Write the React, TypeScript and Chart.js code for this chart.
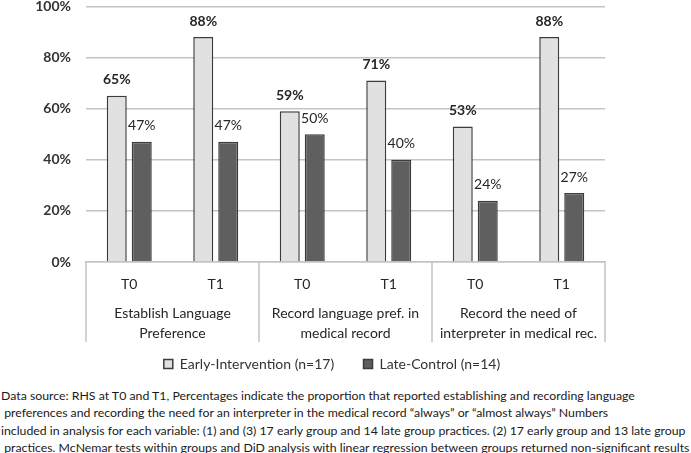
import React, { useEffect, useRef } from "react";
import { Chart, registerables } from "chart.js";

Chart.register(...registerables);

const categories = ["T0", "T1", "T0", "T1", "T0", "T1"];
const groupLabels = [
  ["Establish Language", "Preference"],
  ["Record language pref. in", "medical record"],
  ["Record the need of", "interpreter in medical rec."],
];
const earlyValues = [65, 88, 59, 71, 53, 88];
const lateValues = [47, 47, 50, 40, 24, 27];
const seriesNames = ["Early-Intervention (n=17)", "Late-Control (n=14)"];
const yTicks = [0, 20, 40, 60, 80, 100];
const footnoteLines = [
  "Data source: RHS at T0 and T1, Percentages indicate the proportion that reported establishing and recording language",
  " preferences and recording the need for an interpreter in the medical record \u201Calways\u201D or \u201Calmost always\u201D Numbers",
  "included in analysis for each variable: (1) and (3) 17 early group and 14 late group practices. (2) 17 early group and 13 late group",
  " practices. McNemar tests within groups and DiD analysis with linear regression between groups returned non-significant results",
];

const FONT = "Lato, 'Open Sans', sans-serif";
const GRID = "#c4c4c4";
const SHIFT = 17;

const groupLinesPlugin = {
  id: "groupLines",
  afterDraw(chart: any) {
    const x = chart.scales.x;
    const x2 = chart.scales.x2;
    const ctx = chart.ctx;
    const n = categories.length;
    const edges: number[] = [x.left];
    for (let i = 2; i < n; i += 2) {
      edges.push((x.getPixelForValue(i - 1) + x.getPixelForValue(i)) / 2);
    }
    edges.push(x.right);
    ctx.save();
    ctx.strokeStyle = GRID;
    ctx.lineWidth = 1.5;
    edges.forEach((px) => {
      ctx.beginPath();
      ctx.moveTo(px, chart.chartArea.bottom);
      ctx.lineTo(px, x2.bottom);
      ctx.stroke();
    });
    ctx.restore();
  },
};

const legendShiftPlugin = {
  id: "legendShift",
  afterLayout(chart: any) {
    if (chart.legend) chart.legend.left = 59;
  },
};

const valueLabelPlugin = {
  id: "valueLabels",
  afterDatasetsDraw(chart: any) {
    const ctx = chart.ctx;
    ctx.save();
    ctx.fillStyle = "#262626";
    ctx.textAlign = "center";
    ctx.textBaseline = "middle";
    chart.data.datasets.forEach((ds: any, di: number) => {
      const meta = chart.getDatasetMeta(di);
      ctx.font = `${di === 0 ? "bold " : ""}14px ${FONT}`;
      meta.data.forEach((el: any, i: number) => {
        ctx.fillText(ds.data[i] + "%", el.x, el.y - 16);
      });
    });
    ctx.restore();
  },
};

export default function App() {
  const canvasRef = useRef<HTMLCanvasElement>(null);

  useEffect(() => {
    if (!canvasRef.current) return;
    const chart = new Chart(canvasRef.current, {
      type: "bar",
      data: {
        labels: categories,
        datasets: [
          {
            label: seriesNames[0],
            data: earlyValues,
            backgroundColor: "#e1e1e1",
            borderColor: "#3c3c3c",
            borderWidth: 1.5,
            categoryPercentage: 0.578,
            barPercentage: 0.8,
          },
          {
            label: seriesNames[1],
            data: lateValues,
            backgroundColor: "#5f5f5f",
            borderColor: "#3c3c3c",
            borderWidth: 1.5,
            categoryPercentage: 0.578,
            barPercentage: 0.8,
          },
        ],
      },
      options: {
        responsive: false,
        animation: false,
        devicePixelRatio: 1,
        layout: { padding: { left: 0, right: 86, top: 0, bottom: 0 } },
        plugins: {
          tooltip: { enabled: false },
          legend: {
            position: "bottom",
            labels: {
              boxWidth: 9,
              boxHeight: 9,
              padding: 15,
              color: "#333333",
              font: { family: FONT, size: 14 },
              generateLabels: (chart: any) => {
                const items = Chart.defaults.plugins.legend.labels.generateLabels(chart);
                items.forEach((it: any, i: number) => {
                  if (i === 0) it.text = it.text + "    ";
                  it.lineWidth = 1.5;
                });
                return items;
              },
            },
          },
        },
        scales: {
          y: {
            min: 0,
            max: 100,
            afterFit: (s: any) => {
              s.width = 86;
            },
            afterBuildTicks: (s: any) => {
              s.ticks = yTicks.map((v) => ({ value: v }));
            },
            grid: { color: GRID, lineWidth: 1.5, drawTicks: false },
            border: { display: false },
            ticks: {
              padding: 15,
              color: "#333333",
              font: { family: FONT, size: 14, weight: "bold" },
              callback: (v: any) => v + "%",
            },
          },
          x: {
            position: "bottom",
            afterFit: (s: any) => {
              s.height = 34;
            },
            grid: { display: false, drawTicks: false },
            border: { display: true, color: GRID, width: 1.5 },
            ticks: {
              padding: 14,
              color: "#262626",
              font: { family: FONT, size: 14 },
              maxRotation: 0,
            },
          },
          x2: {
            type: "category",
            position: "bottom",
            labels: groupLabels as any,
            offset: true,
            afterFit: (s: any) => {
              s.height = 46;
            },
            grid: { display: false, drawTicks: false },
            border: { display: false },
            ticks: {
              padding: 8,
              color: "#262626",
              font: { family: FONT, size: 14, lineHeight: 1.39 },
              maxRotation: 0,
            },
          },
        },
      },
      plugins: [groupLinesPlugin, valueLabelPlugin, legendShiftPlugin],
    } as any);
    return () => chart.destroy();
  }, []);

  return (
    <div style={{ position: "absolute", left: 0, top: 0, width: 691, height: 453, background: "#fff", overflow: "hidden" }}>
      <canvas
        ref={canvasRef}
        width={691}
        height={398}
        style={{ display: "block", position: "absolute", left: 0, top: -SHIFT, width: 691, height: 398 }}
      />
      <div
        style={{
          position: "absolute",
          left: 1,
          top: 387,
          fontFamily: FONT,
          fontSize: "12.3px",
          lineHeight: "17.3px",
          color: "#1a1a1a",
          whiteSpace: "pre",
        }}
      >
        {footnoteLines.map((l, i) => (
          <div key={i}>{l}</div>
        ))}
      </div>
    </div>
  );
}
